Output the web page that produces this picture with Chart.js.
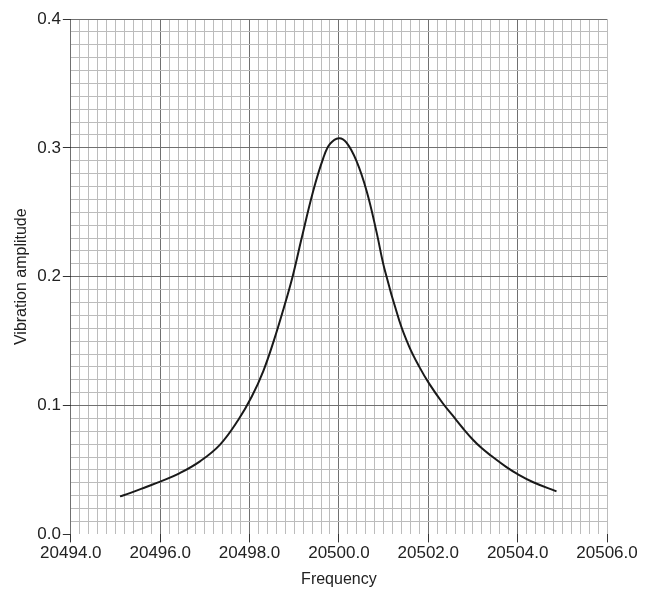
<!DOCTYPE html>
<html>

<head>
	<meta charset="utf-8">
	<script src="https://cdn.jsdelivr.net/npm/chart.js@4/dist/chart.umd.min.js"></script>
	<style>
		body {
			margin: 0;
			background: #fff;
		}

		#chart {
			width: 648px;
			height: 592px;
		}
	</style>
	<title>Vibration amplitude</title>
</head>

<body>
	<div id="chart">
		<canvas id="myChart"></canvas>
	</div>

	<script>
		// values
		var frequency = [20495.10, 20495.32, 20495.70, 20496.00, 20496.44, 20496.89, 20497.34, 20497.75,
			20498.05, 20498.31, 20498.54, 20498.76, 20498.97, 20499.16, 20499.42, 20499.65, 20499.80,
			20500.00, 20500.17, 20500.39, 20500.62, 20500.84, 20501.02, 20501.35, 20501.57,
			20501.80, 20502.02, 20502.32, 20502.54, 20502.78, 20503.00, 20503.20, 20503.40, 20503.75,
			20504.00, 20504.35, 20504.87];
		var amplitude = [0.0295, 0.032, 0.037, 0.041, 0.0476, 0.0567, 0.0697, 0.089,
			0.107, 0.127, 0.150, 0.175, 0.201, 0.229, 0.266, 0.292, 0.303,
			0.3075, 0.304, 0.290, 0.2665, 0.235, 0.206, 0.166, 0.146,
			0.130, 0.117, 0.102, 0.0925, 0.0822, 0.0735, 0.0668, 0.0612, 0.0522,
			0.0468, 0.0405, 0.0334];

		var xMin = 20494, xMax = 20506, xMajor = 2, xMinor = 0.2;
		var yMin = 0, yMax = 0.4, yMajor = 0.1, yMinor = 0.01;

		var points = [];
		for (var i = 0; i < frequency.length; i++) {
			points.push({ x: frequency[i], y: amplitude[i] });
		}

		function isMajor(v, step) {
			var r = v / step;
			return Math.abs(r - Math.round(r)) < 1e-6;
		}

		var minorColor = "#bcbcbc";
		var majorColor = "#707070";
		var font = { family: "'Liberation Sans', Arial, sans-serif", size: 17 };

		var ctx = document.getElementById('myChart').getContext('2d');
		var myChart = new Chart(ctx, {
			type: 'line',
			data: {
				datasets: [{
					data: points,
					borderColor: "#1a1a1a",
					borderWidth: 2,
					pointRadius: 0,
					fill: false,
					tension: 0.4
				}]
			},
			options: {
				responsive: true,
				maintainAspectRatio: false,
				animation: false,
				layout: { padding: { top: 19, right: 41, left: 12, bottom: 3 } },
				plugins: {
					legend: { display: false },
					tooltip: { enabled: false }
				},
				scales: {
					x: {
						type: 'linear',
						min: xMin,
						max: xMax,
						border: { display: false },
						grid: {
							color: function (c) {
								var v = c.tick.value;
								if (Math.abs(v - xMax) < 1e-6) return minorColor;
								return isMajor(v, xMajor) ? majorColor : minorColor;
							},
							tickColor: function (c) {
								return isMajor(c.tick.value, xMajor) ? "#333" : "rgba(0,0,0,0)";
							},
							tickLength: 8
						},
						ticks: {
							stepSize: xMinor,
							autoSkip: false,
							maxRotation: 0,
							color: "#222",
							font: font,
							padding: 1,
							callback: function (v) {
								return isMajor(v, xMajor) ? v.toFixed(1) : "";
							}
						},
						title: {
							display: true,
							text: "Frequency",
							color: "#222",
							font: { family: "'Liberation Sans', Arial, sans-serif", size: 16 },
							padding: { top: 5, bottom: 0 }
						}
					},
					y: {
						min: yMin,
						max: yMax,
						border: { display: false },
						grid: {
							color: function (c) {
								var v = c.tick.value;
								if (Math.abs(v - yMin) < 1e-6) return "rgba(0,0,0,0)";
								return isMajor(v, yMajor) ? majorColor : minorColor;
							},
							tickColor: function (c) {
								return isMajor(c.tick.value, yMajor) ? "#333" : "rgba(0,0,0,0)";
							},
							tickLength: 8
						},
						ticks: {
							stepSize: yMinor,
							autoSkip: false,
							color: "#222",
							font: font,
							padding: 2,
							callback: function (v) {
								return isMajor(v, yMajor) ? v.toFixed(1) : "";
							}
						},
						title: {
							display: true,
							text: "Vibration amplitude",
							color: "#222",
							font: { family: "'Liberation Sans', Arial, sans-serif", size: 16 },
							padding: { top: 0, bottom: 4 }
						}
					}
				}
			}
		});
	</script>
</body>

</html>
